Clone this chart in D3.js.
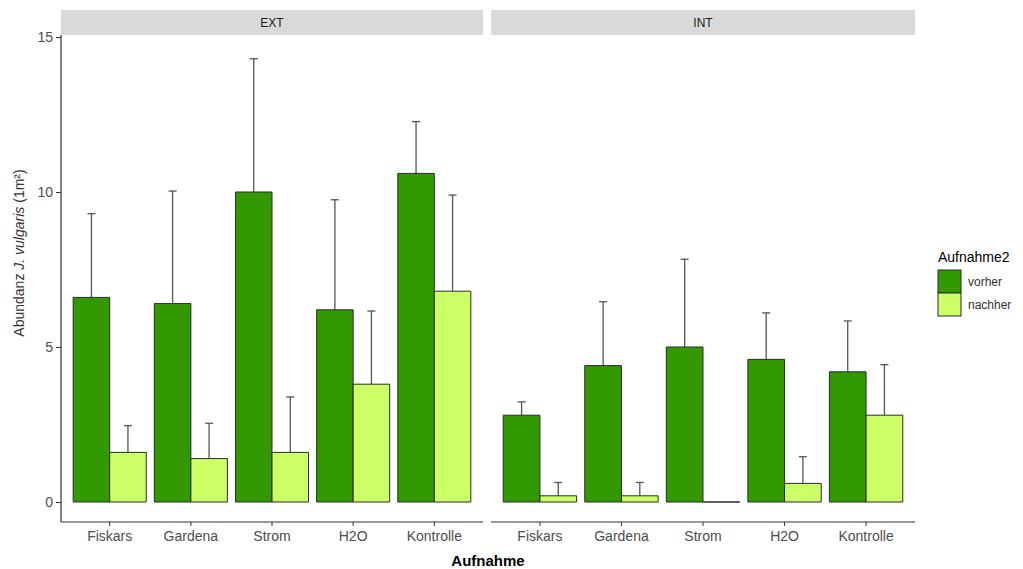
<!DOCTYPE html>
<html>
<head>
<meta charset="utf-8">
<script src="https://cdn.jsdelivr.net/npm/d3@7"></script>
<style>
  body { margin: 0; background: #fff; }
  svg text { font-family: "Liberation Sans", Arial, sans-serif; }
</style>
</head>
<body>
<svg id="chart" width="1023" height="569"></svg>
<script>
const categories = ["Fiskars", "Gardena", "Strom", "H2O", "Kontrolle"];
const panels = ["EXT", "INT"];
const groups = ["vorher", "nachher"];

// means and upper error (sd)
const extVorher = [6.6, 6.4, 10.0, 6.2, 10.6];
const extVorherSd = [2.7, 3.63, 4.3, 3.55, 1.67];
const extNachher = [1.6, 1.4, 1.6, 3.8, 6.8];
const extNachherSd = [0.86, 1.14, 1.79, 2.36, 3.1];
const intVorher = [2.8, 4.4, 5.0, 4.6, 4.2];
const intVorherSd = [0.43, 2.06, 2.83, 1.5, 1.64];
const intNachher = [0.2, 0.2, 0.0, 0.6, 2.8];
const intNachherSd = [0.43, 0.43, 0.0, 0.86, 1.63];

const yTicks = [0, 5, 10, 15];

const COLORS = { vorher: "#339900", nachher: "#ccff66" };
const PANEL_TOP = 35;
const PANEL_BOTTOM = 522;
const STRIP_TOP = 10;
const panelRanges = { EXT: [61, 483], INT: [491, 915] };

function buildRows(panel, vorher, vorherSd, nachher, nachherSd) {
	let rows = [];
	categories.forEach(function(c, i) {
		rows.push({ panel: panel, cat: c, group: "vorher", mean: vorher[i], sd: vorherSd[i] });
		rows.push({ panel: panel, cat: c, group: "nachher", mean: nachher[i], sd: nachherSd[i] });
	});
	return rows;
}

const data = {
	EXT: buildRows("EXT", extVorher, extVorherSd, extNachher, extNachherSd),
	INT: buildRows("INT", intVorher, intVorherSd, intNachher, intNachherSd)
};

const svg = d3.select("#chart");

const yScale = d3.scaleLinear().domain([0, 15]).range([502, 37]);

// Y axis
const yAxis = d3.axisLeft(yScale).tickValues(yTicks).tickSize(5).tickPadding(3);
const yAxisG = svg.append("g")
	.attr("transform", "translate(61,0)")
	.call(yAxis);
yAxisG.select(".domain").remove();
yAxisG.selectAll(".tick line").attr("stroke", "#333");
yAxisG.selectAll(".tick text").attr("fill", "#4d4d4d").style("font-size", "14px");
svg.append("line")
	.attr("x1", 61).attr("x2", 61).attr("y1", PANEL_TOP).attr("y2", PANEL_BOTTOM)
	.attr("stroke", "#333").attr("stroke-width", 1.2);

panels.forEach(function(panel) {
	const [x0, x1] = panelRanges[panel];

	// strip
	svg.append("rect")
		.attr("x", x0).attr("y", STRIP_TOP)
		.attr("width", x1 - x0).attr("height", PANEL_TOP - STRIP_TOP)
		.attr("fill", "#d9d9d9");
	svg.append("text")
		.attr("x", (x0 + x1) / 2).attr("y", (STRIP_TOP + PANEL_TOP) / 2 + 4)
		.attr("text-anchor", "middle")
		.attr("fill", "#1a1a1a")
		.style("font-size", "12px")
		.text(panel);

	const xScale = d3.scaleBand()
		.domain(categories)
		.range([x0, x1])
		.paddingInner(0.1)
		.paddingOuter(0.15);
	const subScale = d3.scaleBand()
		.domain(groups)
		.range([0, xScale.bandwidth()]);

	// x axis
	const xAxis = d3.axisBottom(xScale).tickSize(4).tickPadding(5);
	const xAxisG = svg.append("g")
		.attr("transform", "translate(0," + PANEL_BOTTOM + ")")
		.call(xAxis);
	xAxisG.select(".domain").remove();
	xAxisG.selectAll(".tick line").attr("stroke", "#333");
	xAxisG.selectAll(".tick text").attr("fill", "#4d4d4d").style("font-size", "14px");
	svg.append("line")
		.attr("x1", x0).attr("x2", x1).attr("y1", PANEL_BOTTOM).attr("y2", PANEL_BOTTOM)
		.attr("stroke", "#333").attr("stroke-width", 1.2);

	const g = svg.append("g");

	// error bars (upper only)
	const capHalf = 4;
	g.selectAll(".err")
		.data(data[panel].filter(function(d) { return d.sd > 0; }))
		.enter()
		.append("g")
		.each(function(d) {
			const cx = xScale(d.cat) + subScale(d.group) + subScale.bandwidth() / 2;
			const sel = d3.select(this);
			sel.append("line")
				.attr("x1", cx).attr("x2", cx)
				.attr("y1", yScale(d.mean)).attr("y2", yScale(d.mean + d.sd))
				.attr("stroke", "#555").attr("stroke-width", 1.3);
			sel.append("line")
				.attr("x1", cx - capHalf).attr("x2", cx + capHalf)
				.attr("y1", yScale(d.mean + d.sd)).attr("y2", yScale(d.mean + d.sd))
				.attr("stroke", "#555").attr("stroke-width", 1.3);
		});

	// bars as paths so a zero-height bar still shows its outline
	g.selectAll(".bar")
		.data(data[panel])
		.enter()
		.append("path")
		.attr("d", function(d) {
			const x = xScale(d.cat) + subScale(d.group);
			const w = subScale.bandwidth();
			const yTop = yScale(d.mean);
			const h = yScale(0) - yTop;
			return "M" + x + "," + yTop + "h" + w + "v" + h + "h" + (-w) + "Z";
		})
		.attr("fill", function(d) { return COLORS[d.group]; })
		.attr("stroke", "#2a2a2a")
		.attr("stroke-width", 1);
});

// axis titles
svg.append("text")
	.attr("x", 488).attr("y", 566)
	.attr("text-anchor", "middle")
	.attr("fill", "#000")
	.style("font-size", "15px")
	.style("font-weight", "bold")
	.text("Aufnahme");

const yTitle = svg.append("text")
	.attr("transform", "translate(24,253) rotate(-90)")
	.attr("text-anchor", "middle")
	.attr("fill", "#333")
	.style("font-size", "14px");
yTitle.append("tspan").text("Abundanz ");
yTitle.append("tspan").style("font-style", "italic").text("J. vulgaris");
yTitle.append("tspan").text(" (1m²)");

// legend
const legend = svg.append("g");
legend.append("text")
	.attr("x", 938).attr("y", 262)
	.attr("fill", "#000")
	.style("font-size", "14px")
	.text("Aufnahme2");
groups.forEach(function(grp, i) {
	legend.append("rect")
		.attr("x", 938).attr("y", 270 + i * 23)
		.attr("width", 23).attr("height", 23)
		.attr("fill", COLORS[grp])
		.attr("stroke", "#2a2a2a").attr("stroke-width", 1);
	legend.append("text")
		.attr("x", 968).attr("y", 281 + i * 23 + 5)
		.attr("fill", "#333")
		.style("font-size", "12px")
		.text(grp);
});
</script>
</body>
</html>
